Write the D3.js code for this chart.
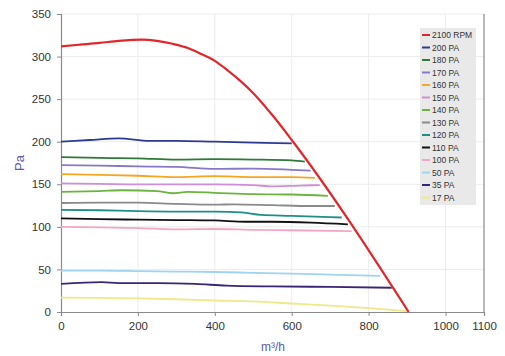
<!DOCTYPE html>
<html><head><meta charset="utf-8">
<script src="https://cdn.jsdelivr.net/npm/d3@7"></script>
<style>
html,body{margin:0;padding:0;background:#fff;}
svg{display:block;font-family:"Liberation Sans",Arial,sans-serif;}
</style></head>
<body><svg id="c" width="505" height="356"></svg>
<script>
const xTicks = [0,200,400,600,800,1000,1100];
const yTicks = [0,50,100,150,200,250,300,350];
const seriesNames = ["2100 RPM","200 PA","180 PA","170 PA","160 PA","150 PA","140 PA","130 PA","120 PA","110 PA","100 PA","50 PA","35 PA","17 PA"];
const seriesColors = ["#e3262a","#2e3a92","#2f7a3a","#8878c8","#f5a623","#cf8fd8","#6cb33f","#8a8a8a","#1f8f86","#111111","#f4a7c4","#9ed4f0","#3b2577","#eee98a"];

const rpm2100 = [[0,312],[50,314],[100,316],[150,318.5],[210,320],[250,318.5],[290,315],[330,310],[360,304],[400,295],[430,285],[470,270],[500,257],[550,231],[600,202],[904,0]];
const pa200 = [[0,200],[75,202],[150,204],[230,201],[300,201],[400,200],[500,199],[600,198]];
const pa180 = [[0,182],[100,181],[200,180.5],[300,179],[400,179.5],[500,179],[600,178],[634,176.5]];
const pa170 = [[0,172.5],[100,172],[200,171],[300,170.5],[400,168],[500,168.5],[600,167],[649,166]];
const pa160 = [[0,162],[100,161],[200,160],[300,158.5],[400,159.5],[500,158.5],[600,158.5],[660,157.5]];
const pa150 = [[0,151],[100,150.5],[200,150],[300,150],[400,150],[500,149],[550,147.5],[620,148.5],[673,149]];
const pa140 = [[0,141],[100,142],[160,143],[250,142],[290,139.5],[330,141],[400,140],[500,138.5],[600,138],[694,136.5]];
const pa130 = [[0,128],[100,128.5],[200,128.5],[300,127],[400,126],[450,126.5],[550,125.5],[650,124.5],[712,124.5]];
const pa120 = [[0,120],[100,119.5],[200,118.5],[300,118],[400,118],[470,117],[520,114],[600,113],[730,111]];
const pa110 = [[0,110],[100,109],[200,108.5],[300,108],[400,107.5],[480,106],[550,106],[650,105],[746,103]];
const pa100 = [[0,100],[100,99.5],[200,98.5],[300,97],[400,97.5],[500,96.5],[600,96],[756,95]];
const pa50 = [[0,48.5],[100,48.5],[200,48],[300,47.5],[400,47],[500,46],[600,45],[700,44],[830,42.5]];
const pa35 = [[0,33],[106,35],[150,34],[250,34],[350,33],[430,31],[550,30],[700,29.5],[860,28.5]];
const pa17 = [[0,17],[100,16.5],[200,16],[300,15],[400,13.5],[500,12.5],[600,10],[700,7.5],[800,4.5],[900,1]];
const seriesData = [rpm2100,pa200,pa180,pa170,pa160,pa150,pa140,pa130,pa120,pa110,pa100,pa50,pa35,pa17];

const svg = d3.select("#c");
const x = d3.scaleLinear().domain([0,1100]).range([61,484]);
const y = d3.scaleLinear().domain([0,350]).range([312,14]);

// gridlines
svg.append("g").selectAll("line").data(yTicks.slice(1)).join("line")
  .attr("x1",x(0)).attr("x2",x(1100)).attr("y1",d=>y(d)).attr("y2",d=>y(d))
  .attr("stroke","#ececec").attr("stroke-width",1);
svg.append("g").selectAll("line").data([200,400,600,800,1000]).join("line")
  .attr("x1",d=>x(d)).attr("x2",d=>x(d)).attr("y1",y(0)).attr("y2",y(350))
  .attr("stroke","#ececec").attr("stroke-width",1);

// right border
svg.append("line").attr("x1",x(1100)).attr("x2",x(1100)).attr("y1",y(350)).attr("y2",y(0))
  .attr("stroke","#8a8a8a").attr("stroke-width",1.2);

// axes
const yAxis = svg.append("g").attr("transform",`translate(${x(0)},0)`)
  .call(d3.axisLeft(y).tickValues(yTicks).tickFormat(d3.format("d")).tickSize(4).tickPadding(6));
const xAxis = svg.append("g").attr("transform",`translate(0,${y(0)})`)
  .call(d3.axisBottom(x).tickValues(xTicks).tickFormat(d3.format("d")).tickSize(4).tickPadding(6));
[yAxis,xAxis].forEach(g=>{
  g.select(".domain").attr("stroke","#8a8a8a").attr("stroke-width",1.2);
  g.selectAll(".tick line").attr("stroke","#8a8a8a");
  g.selectAll(".tick text").attr("fill","#333").style("font-size","11.5px").style("font-family","Liberation Sans, Arial, sans-serif");
});

// lines
const line = d3.line().x(d=>x(d[0])).y(d=>y(d[1])).curve(d3.curveMonotoneX);
const order = d3.range(seriesData.length).reverse();
svg.append("g").selectAll("path").data(order).join("path")
  .attr("d",i=>line(seriesData[i]))
  .attr("fill","none")
  .attr("stroke",i=>seriesColors[i])
  .attr("stroke-width",i=>i===0?2.2:1.8)
  .attr("stroke-linejoin","round");

// legend
const lg = svg.append("g");
lg.append("rect").attr("x",420).attr("y",28).attr("width",56).attr("height",177).attr("fill","#e9e9e9");
const items = lg.selectAll("g").data(seriesNames).join("g")
  .attr("transform",(d,i)=>`translate(422,${35+i*12.5})`);
items.append("line").attr("x1",0).attr("x2",8).attr("y1",0).attr("y2",0)
  .attr("stroke",(d,i)=>seriesColors[i]).attr("stroke-width",2);
items.append("text").attr("x",10).attr("y",3).text(d=>d)
  .attr("fill","#333").style("font-size","8.5px");

// axis titles
svg.append("text").attr("transform",`translate(24,163) rotate(-90)`).attr("text-anchor","middle")
  .text("Pa").attr("fill","#5b5ba8").style("font-size","13px");
svg.append("text").attr("x",273).attr("y",351).attr("text-anchor","middle")
  .text("m³/h").attr("fill","#5b5ba8").style("font-size","12px");
</script></body></html>
